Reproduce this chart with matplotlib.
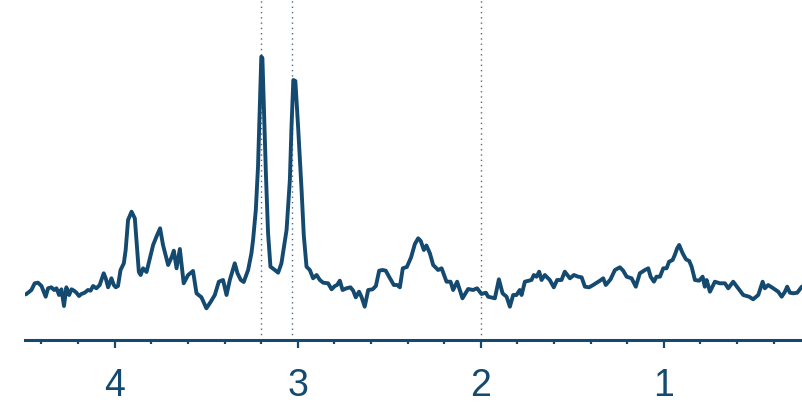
import numpy as np
import matplotlib
matplotlib.use("Agg")
import matplotlib.pyplot as plt
from matplotlib.ticker import MultipleLocator

# chemical shift (ppm) and signal intensity (a.u.)
ppm = [4.501, 4.482, 4.455, 4.437, 4.419, 4.400, 4.388, 4.377, 4.364, 4.346,
       4.331, 4.318, 4.304, 4.291, 4.277, 4.264, 4.249, 4.236, 4.222, 4.209,
       4.195, 4.182, 4.164, 4.146, 4.132, 4.118, 4.100, 4.082, 4.060, 4.049,
       4.036, 4.018, 4.005, 3.994, 3.982, 3.968, 3.950, 3.940, 3.927, 3.908,
       3.890, 3.868, 3.858, 3.845, 3.826, 3.808, 3.790, 3.772, 3.752, 3.736,
       3.708, 3.688, 3.677, 3.662, 3.644, 3.623, 3.599, 3.572, 3.553, 3.526,
       3.499, 3.475, 3.453, 3.431, 3.408, 3.389, 3.371, 3.344, 3.329, 3.311,
       3.295, 3.271, 3.253, 3.244, 3.229, 3.217, 3.207, 3.199, 3.193, 3.185,
       3.174, 3.162, 3.149, 3.125, 3.107, 3.089, 3.061, 3.043, 3.034, 3.024,
       3.013, 2.998, 2.979, 2.967, 2.952, 2.934, 2.916, 2.897, 2.879, 2.861,
       2.834, 2.815, 2.797, 2.785, 2.770, 2.755, 2.734, 2.712, 2.697, 2.683,
       2.665, 2.652, 2.634, 2.615, 2.591, 2.573, 2.555, 2.537, 2.519, 2.501,
       2.475, 2.457, 2.442, 2.426, 2.404, 2.381, 2.360, 2.342, 2.328, 2.311,
       2.297, 2.278, 2.260, 2.233, 2.214, 2.187, 2.165, 2.151, 2.129, 2.100,
       2.069, 2.042, 2.020, 1.996, 1.972, 1.960, 1.923, 1.901, 1.881, 1.859,
       1.841, 1.823, 1.805, 1.787, 1.777, 1.759, 1.723, 1.710, 1.695, 1.681,
       1.668, 1.650, 1.623, 1.601, 1.583, 1.559, 1.541, 1.513, 1.491, 1.468,
       1.449, 1.431, 1.408, 1.386, 1.349, 1.331, 1.317, 1.291, 1.267, 1.240,
       1.222, 1.203, 1.176, 1.153, 1.131, 1.103, 1.085, 1.072, 1.054, 1.040,
       1.021, 1.003, 0.985, 0.971, 0.952, 0.940, 0.927, 0.916, 0.897, 0.879,
       0.861, 0.848, 0.830, 0.807, 0.788, 0.776, 0.766, 0.748, 0.721, 0.694,
       0.666, 0.648, 0.621, 0.594, 0.566, 0.534, 0.512, 0.484, 0.460, 0.448,
       0.430, 0.402, 0.375, 0.356, 0.338, 0.326, 0.311, 0.293, 0.271, 0.246,
       0.224]
signal = [4.50, 4.60, 5.00, 5.67, 5.73, 5.40, 4.83, 4.33, 5.17, 5.27,
          5.00, 5.17, 4.50, 5.07, 3.40, 5.27, 4.50, 5.07, 4.93, 4.73,
          4.40, 4.60, 4.73, 5.00, 4.93, 5.40, 5.17, 5.50, 6.67, 6.17,
          5.27, 6.17, 5.50, 5.27, 5.40, 7.00, 7.67, 9.00, 12.00, 12.83,
          12.17, 6.80, 6.50, 7.17, 6.80, 8.17, 9.50, 10.33, 11.17, 9.50,
          7.50, 8.33, 8.93, 7.17, 9.10, 5.67, 6.50, 6.90, 4.67, 4.27,
          3.17, 3.83, 4.50, 5.83, 6.00, 4.50, 6.00, 7.67, 6.67, 6.00,
          5.80, 7.00, 8.67, 10.00, 13.00, 17.33, 23.33, 28.33, 28.20, 23.33,
          16.67, 10.67, 7.33, 7.00, 6.73, 7.67, 11.00, 16.00, 21.33, 26.00,
          25.90, 21.33, 15.00, 10.50, 7.33, 7.00, 6.17, 6.50, 6.00, 5.73,
          5.67, 5.07, 5.40, 5.50, 5.93, 5.00, 5.17, 5.27, 4.93, 4.27,
          4.83, 4.33, 3.33, 5.00, 5.07, 5.40, 6.93, 7.00, 6.93, 6.33,
          5.50, 5.50, 5.27, 7.17, 7.30, 8.25, 9.60, 10.17, 9.90, 9.00,
          9.45, 8.67, 7.50, 7.00, 7.17, 5.83, 5.83, 5.00, 5.83, 4.17,
          5.10, 5.00, 5.17, 4.60, 4.73, 4.33, 4.17, 6.07, 4.67, 4.33,
          3.33, 4.50, 4.50, 5.00, 4.50, 5.83, 6.00, 6.50, 6.33, 6.83,
          6.00, 6.50, 6.00, 5.27, 6.00, 6.00, 6.83, 6.17, 6.50, 6.33,
          6.27, 5.33, 5.27, 5.50, 5.93, 6.17, 5.50, 6.07, 7.00, 7.27,
          6.93, 6.33, 6.17, 5.33, 6.67, 7.00, 7.17, 6.33, 5.83, 6.33,
          6.33, 7.17, 7.17, 7.83, 8.00, 8.50, 9.17, 9.50, 8.67, 8.07,
          7.90, 7.33, 6.00, 5.93, 6.33, 5.33, 6.00, 4.83, 5.83, 5.67,
          5.67, 5.17, 5.83, 5.17, 4.50, 4.33, 4.07, 4.50, 5.83, 5.17,
          5.50, 5.17, 4.83, 4.33, 4.83, 5.33, 4.73, 4.67, 4.73, 5.33,
          5.50]

# reference positions: choline, creatine, NAA
markers = [3.2, 3.03, 2.0]
tick_values = [4, 3, 2, 1]

blue = "#154a70"

plt.rcParams["font.family"] = ["Liberation Sans", "DejaVu Sans"]

fig = plt.figure(figsize=(8.02, 4.04), dpi=100)
ax = fig.add_axes([25 / 802, 64 / 404, 777 / 802, 340 / 404])

for m in markers:
    ax.axvline(m, color="#4d6a85", lw=1.0, ls=(0, (1, 2.8)), zorder=1)

ax.plot(ppm, signal, color=blue, lw=2.8, solid_joinstyle="round", zorder=3)

ax.set_xlim(4.49, 0.245)
ax.set_ylim(0, 34)

for side in ["top", "right", "left"]:
    ax.spines[side].set_visible(False)
ax.spines["bottom"].set_color(blue)
ax.spines["bottom"].set_linewidth(2.2)

ax.set_yticks([])
ax.set_xticks(tick_values)
ax.set_xticklabels([str(t) for t in tick_values])
ax.xaxis.set_minor_locator(MultipleLocator(0.2))
ax.tick_params(axis="x", which="major", length=6, width=1.6, color=blue,
               labelcolor=blue, labelsize=27, pad=14)
ax.tick_params(axis="x", which="minor", length=3, width=1.6, color=blue)

fig.savefig("out.png", dpi=100)
